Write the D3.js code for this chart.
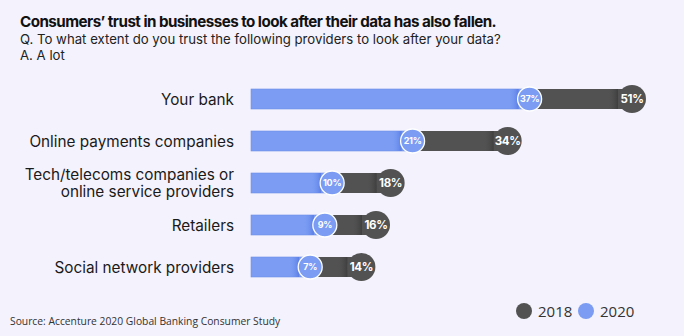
<!DOCTYPE html>
<html>
<head>
<meta charset="utf-8">
<script src="https://cdn.jsdelivr.net/npm/d3@7"></script>
<style>
  html, body { margin: 0; padding: 0; background: #f4f2fc; }
  svg { display: block; }
</style>
</head>
<body>
<svg id="chart" width="684" height="336"></svg>
<script>
// Trust data: share answering "A lot", by provider type
const categories = [
  ["Your bank"],
  ["Online payments companies"],
  ["Tech/telecoms companies or", "online service providers"],
  ["Retailers"],
  ["Social network providers"]
];
const values2018 = [51, 34, 18, 16, 14];
const values2020 = [37, 21, 10, 9, 7];
const legendLabels = ["2018", "2020"];

const W = 684, H = 336;
const BG = "#f4f2fc";
const C2018 = "#525252";
const C2020 = "#7b9cf2";

const svg = d3.select("#chart");
svg.append("rect").attr("width", W).attr("height", H).attr("fill", BG);

// Heading block
const head = svg.append("g");
head.append("text")
  .attr("x", 20).attr("y", 27)
  .attr("font-family", "Inter, 'Noto Sans', sans-serif")
  .attr("font-weight", 700).attr("font-size", 15.2)
  .attr("letter-spacing", -0.55)
  .attr("fill", "#111")
  .text("Consumers\u2019 trust in businesses to look after their data has also fallen.");
head.append("text")
  .attr("x", 20).attr("y", 44)
  .attr("font-family", "Inter, 'Noto Sans', sans-serif")
  .attr("font-size", 13.2)
  .attr("fill", "#222")
  .text("Q. To what extent do you trust the following providers to look after your data?");
head.append("text")
  .attr("x", 20).attr("y", 60)
  .attr("font-family", "Inter, 'Noto Sans', sans-serif")
  .attr("font-size", 13.2)
  .attr("fill", "#222")
  .text("A. A lot");

// Scales
const barStart = 251;
const x = d3.scaleLinear().domain([0, 51]).range([259, 632]);
const y = d3.scalePoint().domain(d3.range(categories.length)).range([99, 267]);
const barH = 20;
const r18 = 14, r20 = 12;

const defs = svg.append("defs");
const gBlue = defs.append("linearGradient").attr("id", "shadeBlue");
gBlue.append("stop").attr("offset", "0%").attr("stop-color", C2020).attr("stop-opacity", 0);
gBlue.append("stop").attr("offset", "100%").attr("stop-color", "#5a7de6").attr("stop-opacity", 1);
const gDark = defs.append("linearGradient").attr("id", "shadeDark");
gDark.append("stop").attr("offset", "0%").attr("stop-color", C2018).attr("stop-opacity", 0);
gDark.append("stop").attr("offset", "100%").attr("stop-color", "#3e3e3e").attr("stop-opacity", 1);

const rows = svg.append("g").selectAll("g")
  .data(categories.map((c, i) => ({ label: c, v18: values2018[i], v20: values2020[i], i })))
  .join("g")
  .attr("transform", d => `translate(0,${y(d.i)})`);

// Category labels (right aligned)
rows.append("text")
  .attr("x", 234)
  .attr("text-anchor", "end")
  .attr("font-family", "Inter, 'Noto Sans', sans-serif")
  .attr("font-size", 15.3)
  .attr("fill", "#1a1a1a")
  .each(function(d) {
    const t = d3.select(this);
    const n = d.label.length;
    d.label.forEach((line, k) => {
      t.append("tspan")
        .attr("x", 234)
        .attr("y", (k - (n - 1) / 2) * 17.5 + 5.5)
        .text(line);
    });
  });

// 2018 bar
rows.append("rect")
  .attr("x", barStart).attr("y", -barH / 2)
  .attr("width", d => x(d.v18) - barStart)
  .attr("height", barH)
  .attr("fill", C2018);
rows.append("rect")
  .attr("x", d => x(d.v18) - r18 - 10).attr("y", -barH / 2)
  .attr("width", 10).attr("height", barH)
  .attr("fill", "url(#shadeDark)");

// 2020 bar
rows.append("rect")
  .attr("x", barStart).attr("y", -barH / 2)
  .attr("width", d => x(d.v20) - barStart)
  .attr("height", barH)
  .attr("fill", C2020)
  .attr("stroke", "#6f8fe6").attr("stroke-width", 0.6);
rows.append("rect")
  .attr("x", d => x(d.v20) - r20 - 9).attr("y", -barH / 2)
  .attr("width", 10).attr("height", barH)
  .attr("fill", "url(#shadeBlue)");

// End markers
rows.append("circle")
  .attr("cx", d => x(d.v18)).attr("r", r18)
  .attr("fill", C2018);
rows.append("text")
  .attr("x", d => x(d.v18)).attr("y", 4)
  .attr("text-anchor", "middle")
  .attr("font-family", "Inter, 'Noto Sans', sans-serif")
  .attr("font-weight", 700).attr("font-size", 11.5)
  .attr("letter-spacing", -0.3)
  .attr("fill", "#fff")
  .text(d => d.v18 + "%");

rows.append("circle")
  .attr("cx", d => x(d.v20)).attr("r", r20)
  .attr("fill", C2020)
  .attr("stroke", "#fff").attr("stroke-width", 1.3);
rows.append("text")
  .attr("x", d => x(d.v20)).attr("y", 3.2)
  .attr("text-anchor", "middle")
  .attr("font-family", "Inter, 'Noto Sans', sans-serif")
  .attr("font-weight", 700).attr("font-size", 9)
  .attr("letter-spacing", -0.3)
  .attr("fill", "#fff")
  .text(d => d.v20 + "%");

// Legend
const legend = svg.append("g").attr("transform", "translate(524,311)");
const legendColors = [C2018, C2020];
const lx = [0, 62];
legendLabels.forEach((lab, i) => {
  legend.append("circle").attr("cx", lx[i]).attr("r", 8).attr("fill", legendColors[i]);
  legend.append("text")
    .attr("x", lx[i] + 14).attr("y", 5.5)
    .attr("font-family", "'Open Sans', sans-serif")
    .attr("font-size", 15)
    .attr("fill", "#333")
    .text(lab);
});

// Source note
svg.append("text")
  .attr("x", 10).attr("y", 325)
  .attr("font-family", "'Open Sans', sans-serif")
  .attr("font-size", 10.3)
  .attr("fill", "#333")
  .text("Source: Accenture 2020 Global Banking Consumer Study");
</script>
</body>
</html>
